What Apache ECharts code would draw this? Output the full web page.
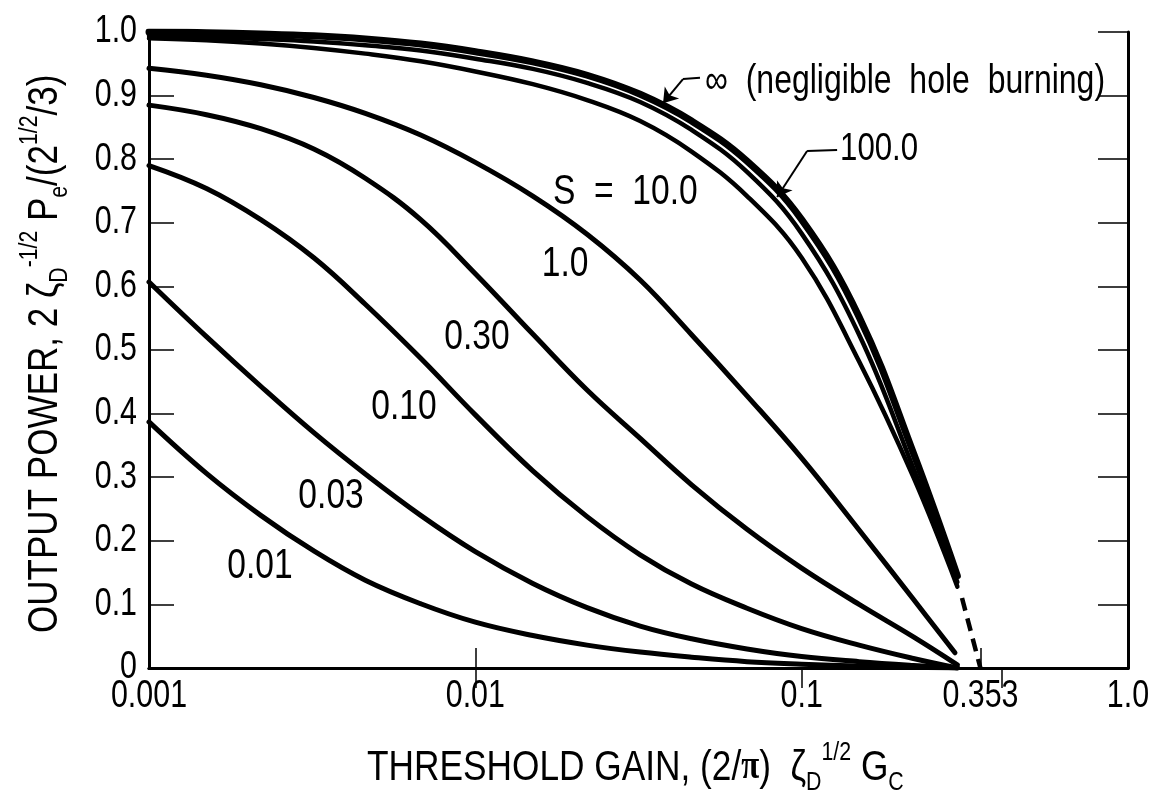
<!DOCTYPE html>
<html>
<head>
<meta charset="utf-8">
<script src="https://cdn.jsdelivr.net/npm/echarts@6/dist/echarts.min.js"></script>
<style>
  html, body { margin: 0; padding: 0; background: #fff; }
  #chart { width: 1155px; height: 803px; }
</style>
</head>
<body>
<div id="chart"></div>
<script>
// Output power versus threshold gain for several saturation parameters S.
// Threshold gain values (log-spaced) shared by the curves.
const gain = [0.001, 0.0015, 0.0022, 0.0032, 0.0046, 0.0068, 0.01, 0.015, 0.022, 0.032, 0.046, 0.068, 0.1, 0.15, 0.22, 0.3];
// the S = 1.0 curve stops a little earlier
const gainS1 = [0.001, 0.0015, 0.0022, 0.0032, 0.0046, 0.0068, 0.01, 0.015, 0.022, 0.032, 0.046, 0.068, 0.1, 0.15, 0.22, 0.295];

// normalized output power for each saturation parameter S
const powerInf = [1.000, 0.999, 0.997, 0.994, 0.989, 0.981, 0.969, 0.953, 0.932, 0.902, 0.860, 0.797, 0.705, 0.552, 0.338, 0.145];
const power100 = [0.994, 0.992, 0.989, 0.985, 0.979, 0.971, 0.958, 0.942, 0.920, 0.890, 0.846, 0.780, 0.683, 0.524, 0.314, 0.135];
const power10  = [0.990, 0.987, 0.982, 0.975, 0.966, 0.954, 0.938, 0.918, 0.893, 0.860, 0.812, 0.742, 0.645, 0.482, 0.300, 0.128];
const power1   = [0.943, 0.932, 0.917, 0.897, 0.872, 0.838, 0.795, 0.742, 0.682, 0.610, 0.524, 0.428, 0.330, 0.217, 0.108, 0.024];
const power030 = [0.885, 0.870, 0.848, 0.816, 0.770, 0.705, 0.620, 0.525, 0.437, 0.361, 0.288, 0.218, 0.157, 0.100, 0.049, 0.005];
const power010 = [0.790, 0.754, 0.705, 0.645, 0.572, 0.487, 0.398, 0.310, 0.238, 0.178, 0.132, 0.094, 0.062, 0.036, 0.015, 0.000];
const power003 = [0.607, 0.521, 0.443, 0.370, 0.305, 0.240, 0.183, 0.133, 0.095, 0.066, 0.046, 0.030, 0.018, 0.010, 0.004, 0.000];
const power001 = [0.387, 0.306, 0.240, 0.184, 0.138, 0.101, 0.072, 0.051, 0.036, 0.025, 0.017, 0.010, 0.006, 0.003, 0.001, 0.000];

// extrapolated tail of the S = infinity curve down to the 0.353 threshold
const tailGain = [0.31, 0.353];
const tailPower = [0.11, 0.0];

// axis ticks and labels
const yLabelValues = [0, 0.1, 0.2, 0.3, 0.4, 0.5, 0.6, 0.7, 0.8, 0.9, 1.0];
const yLabelText = ['0', '0.1', '0.2', '0.3', '0.4', '0.5', '0.6', '0.7', '0.8', '0.9', '1.0'];
const xLabelValues = [0.001, 0.01, 0.1, 0.353, 1];
const xLabelText = ['0.001', '0.01', '0.1', '0.353', '1.0'];
const xBottomTicks = [0.01, 0.353];
const xTopTicks = [0.01, 0.1, 0.41];

// curve labels: position in data units and text
const curveLabelPos = [[0.0506, 0.921], [0.1311, 0.816], [0.01729, 0.747], [0.01884, 0.634], [0.01012, 0.519], [0.006045, 0.409], [0.003613, 0.269], [0.002188, 0.159]];
const curveLabelText = ['\u221e  (negligible  hole  burning)', '100.0', 'S  =  10.0', '1.0', '0.30', '0.10', '0.03', '0.01'];
const curveLabelAlign = ['left', 'left', 'left', 'center', 'center', 'center', 'center', 'center'];

// leader lines: plain part then arrowed part
const leaderPlain = [
  [[0.0488, 0.928], [0.04329, 0.926]],
  [[0.1284, 0.8145], [0.1039, 0.813]]
];
const leaderArrow = [
  [[0.04329, 0.926], [0.0376, 0.888]],
  [[0.1039, 0.813], [0.0841, 0.7406]]
];

const FONT = "'Liberation Sans', Arial, sans-serif";
const INK = '#000';

const chart = echarts.init(document.getElementById('chart'), null, { renderer: 'canvas' });

function pairs(xs, ys) {
  return xs.map((x, i) => [x, ys[i]]);
}

function curveSeries(xs, ys, width) {
  return {
    type: 'line', data: pairs(xs, ys), xAxisIndex: 0, yAxisIndex: 0,
    showSymbol: false, symbol: 'none', smooth: 0.4, silent: true,
    lineStyle: { color: INK, width: width, cap: 'round', join: 'round' },
    z: 3
  };
}

// text placed in data coordinates, condensed horizontally
function textSeries(points, texts, opts) {
  return {
    type: 'custom', coordinateSystem: 'cartesian2d', silent: true, clip: false, z: 6,
    data: points,
    renderItem: function (params, api) {
      const p = api.coord([api.value(0), api.value(1)]);
      const i = params.dataIndex;
      const align = Array.isArray(opts.align) ? opts.align[i] : opts.align;
      return {
        type: 'text', x: p[0] + (opts.dx || 0), y: p[1] + (opts.dy || 0),
        scaleX: opts.scaleX, scaleY: 1,
        style: {
          text: texts[i], fill: INK, fontFamily: FONT, fontSize: Array.isArray(opts.fontSize) ? opts.fontSize[i] : opts.fontSize,
          align: align, verticalAlign: 'middle'
        }
      };
    }
  };
}

const option = {
  backgroundColor: '#fff',
  animation: false,
  grid: { left: 149, right: 27, top: 32, bottom: 135, containLabel: false },
  xAxis: [
    {
      type: 'log', logBase: 10, min: 0.001, max: 1, position: 'bottom',
      axisLine: { show: true, lineStyle: { color: INK, width: 3 } },
      axisTick: { show: true, inside: true, length: 20, customValues: xBottomTicks, lineStyle: { color: INK, width: 1.5 } },
      minorTick: { show: false },
      axisLabel: { show: false },
      splitLine: { show: false }
    },
    {
      type: 'log', logBase: 10, min: 0.001, max: 1, position: 'top',
      axisLine: { show: true, lineStyle: { color: INK, width: 3 } },
      axisTick: { show: true, inside: true, length: 20, customValues: xTopTicks, lineStyle: { color: INK, width: 1.5 } },
      minorTick: { show: false },
      axisLabel: { show: false },
      splitLine: { show: false }
    }
  ],
  yAxis: [
    {
      type: 'value', min: 0, max: 1, interval: 0.1, position: 'left',
      axisLine: { show: true, lineStyle: { color: INK, width: 3 } },
      axisTick: { show: true, inside: true, length: 25, lineStyle: { color: INK, width: 1.5 } },
      axisLabel: { show: false },
      splitLine: { show: false }
    },
    {
      type: 'value', min: 0, max: 1, interval: 0.1, position: 'right',
      axisLine: { show: true, lineStyle: { color: INK, width: 3 } },
      axisTick: { show: true, inside: true, length: 30, lineStyle: { color: INK, width: 1.5 } },
      axisLabel: { show: false },
      splitLine: { show: false }
    }
  ],
  series: [
    curveSeries(gain, power001, 5),
    curveSeries(gain, power003, 5),
    curveSeries(gain, power010, 5),
    curveSeries(gain, power030, 5),
    curveSeries(gainS1, power1, 5),
    curveSeries(gain, power10, 4.5),
    curveSeries(gain, power100, 4.5),
    curveSeries(gain, powerInf, 7),
    {
      type: 'line', data: pairs(tailGain, tailPower), showSymbol: false, symbol: 'none', silent: true,
      lineStyle: { color: INK, width: 4.5, type: [13, 8] }, z: 3
    },
    {
      type: 'lines', coordinateSystem: 'cartesian2d', silent: true,
      data: leaderPlain.map(c => ({ coords: c })),
      symbol: ['none', 'none'],
      lineStyle: { color: INK, width: 2, opacity: 1, curveness: 0 }, z: 4
    },
    {
      type: 'lines', coordinateSystem: 'cartesian2d', silent: true,
      data: leaderArrow.map(c => ({ coords: c })),
      symbol: ['none', 'arrow'], symbolSize: 14,
      lineStyle: { color: INK, width: 2, opacity: 1, curveness: 0 }, z: 4
    },
    // y tick labels to the left of the axis
    textSeries(yLabelValues.map(v => [0.001, v]), yLabelText, { dx: -12, dy: 0, align: 'right', fontSize: 38, scaleX: 0.8 }),
    // x tick labels below the axis
    textSeries(xLabelValues.map(v => [v, 0]), xLabelText, { dx: 0, dy: 29, align: 'center', fontSize: 38, scaleX: 0.8 }),
    // curve labels
    textSeries(curveLabelPos, curveLabelText, { dx: 0, dy: 0, align: curveLabelAlign, fontSize: [40, 39, 42, 42, 42, 42, 42, 42], scaleX: 0.8 })
  ],
  graphic: [
    {
      type: 'text', x: 367, y: 768, scaleX: 0.82, silent: true,
      style: {
        text: '{m|THRESHOLD GAIN, (2/}{pi|\u03c0}{m|)  \u03b6}{sub|D}{sup|1/2}{m| G}{sub|C}',
        fill: INK, align: 'left', verticalAlign: 'middle',
        rich: {
          m: { fontFamily: FONT, fontSize: 43, lineHeight: 56, verticalAlign: 'middle', fill: INK },
          pi: { fontFamily: "'Liberation Serif',serif", fontWeight: 'bold', fontSize: 40, lineHeight: 56, verticalAlign: 'middle', fill: INK },
          sub: { fontFamily: FONT, fontSize: 26, lineHeight: 26, verticalAlign: 'bottom', fill: INK },
          sup: { fontFamily: FONT, fontSize: 26, lineHeight: 26, verticalAlign: 'top', fill: INK }
        }
      }
    },
    {
      type: 'text', x: 45, y: 633, rotation: Math.PI / 2, scaleX: 0.815, silent: true,
      style: {
        text: '{m|OUTPUT POWER, 2 \u03b6}{sub|D}{sup|-1/2}{m| P}{sub|e}{m|/(2}{sup|1/2}{m|/3)}',
        fill: INK, align: 'left', verticalAlign: 'middle',
        rich: {
          m: { fontFamily: FONT, fontSize: 43, lineHeight: 56, verticalAlign: 'middle', fill: INK },
          sub: { fontFamily: FONT, fontSize: 26, lineHeight: 26, verticalAlign: 'bottom', fill: INK },
          sup: { fontFamily: FONT, fontSize: 26, lineHeight: 26, verticalAlign: 'top', fill: INK }
        }
      }
    }
  ]
};

chart.setOption(option);
</script>
</body>
</html>
